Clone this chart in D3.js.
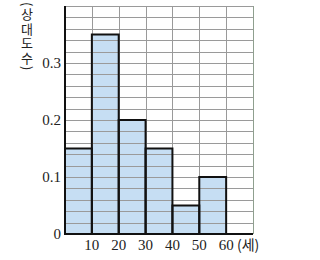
<!DOCTYPE html>
<html>
<head>
<meta charset="utf-8">
<script src="https://cdn.jsdelivr.net/npm/d3@7"></script>
<style>
  body { margin: 0; background: #fff; }
  svg { display: block; }
</style>
</head>
<body>
<div class="canvas"></div>
<script>
// age classes (lower bounds, 세) and relative frequency (상대도수)
const binStarts = [0, 10, 20, 30, 40, 50];
const relFreq = [0.15, 0.35, 0.2, 0.15, 0.05, 0.1];
const xTicks = [10, 20, 30, 40, 50, 60];
const yTicks = [0, 0.1, 0.2, 0.3];
const binWidth = 10;

const W = 320, H = 260;
const plot = { left: 65, right: 253, top: 6, bottom: 234 };

const svg = d3.select('.canvas').append('svg')
    .attr('width', W)
    .attr('height', H);

const x = d3.scaleLinear().domain([0, 70]).range([plot.left, plot.right]);
const y = d3.scaleLinear().domain([0, 0.4]).range([plot.bottom, plot.top]);

const bars = binStarts.map((b, i) => ({ x0: b, x1: b + binWidth, v: relFreq[i] }));

// bar fills first so the grid shows through
svg.append('g').selectAll('rect')
    .data(bars)
    .enter().append('rect')
    .attr('x', d => x(d.x0))
    .attr('y', d => y(d.v))
    .attr('width', d => x(d.x1) - x(d.x0))
    .attr('height', d => y(0) - y(d.v))
    .attr('fill', '#c6def3');

// grid
const grid = svg.append('g').attr('stroke', '#9a9a9a').attr('stroke-width', 1);
grid.selectAll('line.h')
    .data(d3.range(1, 21).map(i => i * 0.02))
    .enter().append('line')
    .attr('x1', plot.left).attr('x2', plot.right)
    .attr('y1', d => Math.round(y(d)) + 0.5)
    .attr('y2', d => Math.round(y(d)) + 0.5);
grid.selectAll('line.v')
    .data(d3.range(1, 8).map(i => i * 10))
    .enter().append('line')
    .attr('x1', d => Math.round(x(d)) + 0.5)
    .attr('x2', d => Math.round(x(d)) + 0.5)
    .attr('y1', plot.top).attr('y2', plot.bottom)
    .attr('stroke', d => d === 70 ? '#8fa08f' : '#9a9a9a');

// bar outlines
svg.append('g').selectAll('rect')
    .data(bars)
    .enter().append('rect')
    .attr('x', d => x(d.x0))
    .attr('y', d => y(d.v))
    .attr('width', d => x(d.x1) - x(d.x0))
    .attr('height', d => y(0) - y(d.v))
    .attr('fill', 'none')
    .attr('stroke', '#111')
    .attr('stroke-width', 2);

// axes lines
svg.append('line')
    .attr('x1', plot.left).attr('x2', plot.left)
    .attr('y1', plot.top).attr('y2', plot.bottom)
    .attr('stroke', '#111').attr('stroke-width', 2);
svg.append('line')
    .attr('x1', plot.left).attr('x2', plot.right)
    .attr('y1', plot.bottom).attr('y2', plot.bottom)
    .attr('stroke', '#111').attr('stroke-width', 2);

// tick labels
const serif = '"Liberation Serif", "DejaVu Serif", serif';
svg.append('g').selectAll('text')
    .data(yTicks)
    .enter().append('text')
    .attr('x', plot.left - 4)
    .attr('y', d => y(d) + 5)
    .attr('text-anchor', 'end')
    .attr('font-family', serif)
    .attr('font-size', 15)
    .attr('fill', '#222')
    .text(d => d === 0 ? '0' : d3.format('.1f')(d));

svg.append('g').selectAll('text')
    .data(xTicks)
    .enter().append('text')
    .attr('x', d => x(d))
    .attr('y', 250)
    .attr('text-anchor', 'middle')
    .attr('font-family', serif)
    .attr('font-size', 15)
    .attr('fill', '#222')
    .text(d => d);

svg.append('text')
    .attr('x', 237)
    .attr('y', 250)
    .attr('font-family', '"Noto Sans CJK KR", sans-serif')
    .attr('font-size', 14)
    .attr('fill', '#222')
    .text('(세)');

// vertical y title, written top to bottom
svg.append('text')
    .attr('x', 27)
    .attr('y', 2)
    .style('writing-mode', 'vertical-rl')
    .style('text-orientation', 'mixed')
    .attr('font-family', '"Noto Sans CJK KR", sans-serif')
    .attr('font-size', 13)
    .attr('letter-spacing', 1.5)
    .attr('fill', '#222')
    .text('(상대도수)');
</script>
</body>
</html>
